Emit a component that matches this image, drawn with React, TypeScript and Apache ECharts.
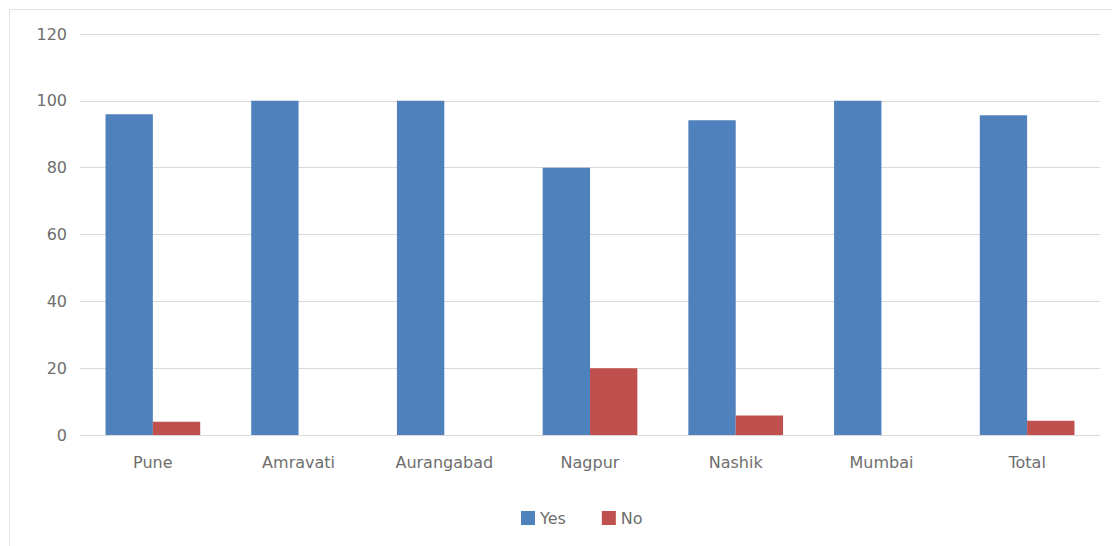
import React, { useEffect, useRef } from "react";
import * as echarts from "echarts";

const categories = ["Pune", "Amravati", "Aurangabad", "Nagpur", "Nashik", "Mumbai", "Total"];
const yesValues = [96, 100, 100, 80, 94.2, 100, 95.7];
const noValues = [4, 0, 0, 20, 5.8, 0, 4.3];
const yTicks = { min: 0, max: 120, interval: 20 };

const FONT = "'DejaVu Sans', 'Noto Sans', sans-serif";
const TEXT = "#6e6e6e";

export default function App() {
  const ref = useRef<HTMLDivElement>(null);

  useEffect(() => {
    if (!ref.current) return;
    const chart = echarts.init(ref.current, undefined, { renderer: "svg" });
    chart.setOption({
      animation: false,
      backgroundColor: "#ffffff",
      textStyle: { fontFamily: FONT, color: TEXT },
      graphic: [
        {
          type: "rect",
          shape: { x: 9.5, y: 9.5, width: 1200, height: 700 },
          style: { fill: "none", stroke: "#e3e3e3", lineWidth: 1 },
          silent: true,
        },
      ],
      grid: { left: 80, right: 12, top: 34, bottom: 111 },
      legend: {
        top: 505,
        left: 516,
        itemWidth: 14,
        itemHeight: 14,
        itemGap: 36,
        icon: "rect",
        textStyle: { fontFamily: FONT, color: TEXT, fontSize: 16 },
        data: ["Yes", "No"],
      },
      xAxis: {
        type: "category",
        data: categories,
        axisTick: { show: false },
        axisLine: { lineStyle: { color: "#d9d9d9" } },
        axisLabel: { color: TEXT, fontSize: 16, margin: 19, fontFamily: FONT },
      },
      yAxis: {
        type: "value",
        min: yTicks.min,
        max: yTicks.max,
        interval: yTicks.interval,
        axisLine: { show: false },
        axisTick: { show: false },
        splitLine: { lineStyle: { color: "#d9d9d9" } },
        axisLabel: { color: TEXT, fontSize: 16, margin: 13, fontFamily: FONT },
      },
      series: [
        {
          name: "Yes",
          type: "bar",
          data: yesValues,
          itemStyle: { color: "#4f81bd" },
          barGap: "0%",
          barCategoryGap: "35%",
        },
        {
          name: "No",
          type: "bar",
          data: noValues,
          itemStyle: { color: "#c0504d" },
          barGap: "0%",
          barCategoryGap: "35%",
        },
      ],
    });
    return () => chart.dispose();
  }, []);

  return (
    <div
      ref={ref}
      style={{ position: "fixed", left: 0, top: 0, width: 1112, height: 546 }}
    />
  );
}
